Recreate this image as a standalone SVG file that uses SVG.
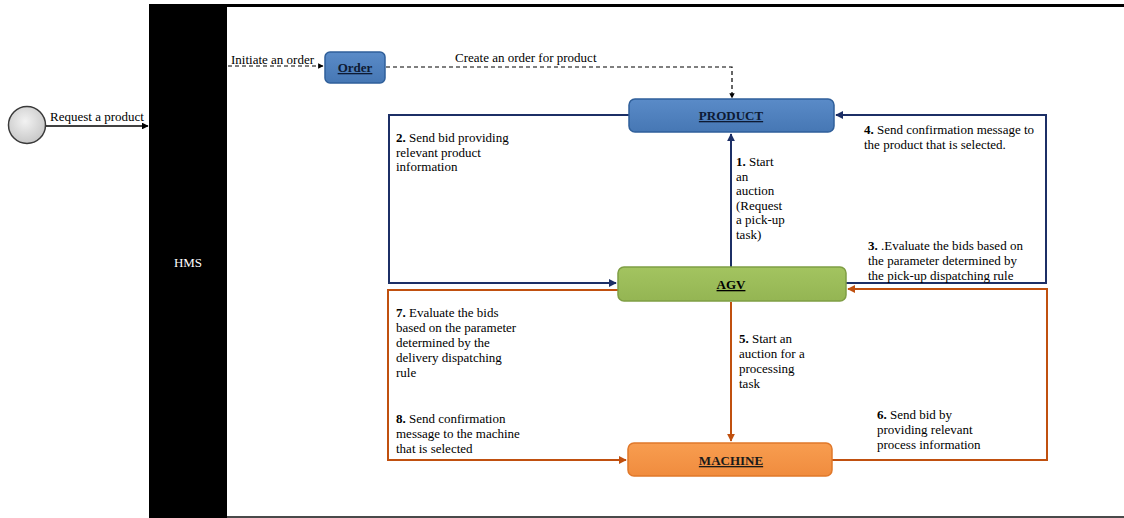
<svg xmlns="http://www.w3.org/2000/svg" width="1124" height="518" viewBox="0 0 1124 518">
<style>
.t{font-family:"Liberation Serif","Times New Roman",serif;font-size:13px;fill:#000}
.b{font-weight:bold}
.w{fill:#fff}
.nt{font-family:"Liberation Serif","Times New Roman",serif;font-size:13px;font-weight:bold;text-decoration:underline;text-anchor:middle}
.navy{fill:none;stroke:#1c2f66;stroke-width:2}
.orng{fill:none;stroke:#c0500f;stroke-width:2}
.dash{fill:none;stroke:#000;stroke-width:1.2;stroke-dasharray:4,3}
.blk{fill:none;stroke:#000;stroke-width:1.5}
</style>
<defs>
<marker id="an" viewBox="0 0 10 10" refX="9" refY="5" markerWidth="4" markerHeight="4" orient="auto"><path d="M0,0 L10,5 L0,10 z" fill="#1c2f66"/></marker>
<marker id="ao" viewBox="0 0 10 10" refX="9" refY="5" markerWidth="4" markerHeight="4" orient="auto"><path d="M0,0 L10,5 L0,10 z" fill="#c0500f"/></marker>
<marker id="ak" viewBox="0 0 10 10" refX="9" refY="5" markerWidth="4.5" markerHeight="4.5" orient="auto"><path d="M0,0 L10,5 L0,10 z" fill="#000"/></marker>
<radialGradient id="gc" cx="0.45" cy="0.4" r="0.6"><stop offset="0" stop-color="#f2f2f2"/><stop offset="1" stop-color="#c8c8c8"/></radialGradient>
<linearGradient id="gb" x1="0" y1="0" x2="0" y2="1"><stop offset="0" stop-color="#5a8bc8"/><stop offset="1" stop-color="#4677b4"/></linearGradient>
<linearGradient id="gg" x1="0" y1="0" x2="0" y2="1"><stop offset="0" stop-color="#a3c460"/><stop offset="1" stop-color="#94b553"/></linearGradient>
<linearGradient id="go" x1="0" y1="0" x2="0" y2="1"><stop offset="0" stop-color="#f89d50"/><stop offset="1" stop-color="#f08c3e"/></linearGradient>
</defs>

<g id="frame">
<rect x="149" y="5" width="78" height="513" fill="#000"/>
<rect x="149" y="4" width="975" height="3" fill="#000"/>
<rect x="227" y="516" width="897" height="2" fill="#4a4a4a"/>
<text class="t w" x="188" y="267" text-anchor="middle">HMS</text>
</g>

<g id="start">
<circle cx="27" cy="125" r="18.5" fill="url(#gc)" stroke="#3a3a3a" stroke-width="1.5"/>
</g>

<g id="connectors">
<path class="blk" d="M46,126 H148" marker-end="url(#ak)"/>
<path class="dash" d="M228,66 H323" marker-end="url(#ak)"/>
<path class="dash" d="M386,67 H732 V98" marker-end="url(#ak)"/>
<path class="navy" d="M629,115 H389 V283 H616" marker-end="url(#an)"/>
<path class="navy" d="M731,267 V134" marker-end="url(#an)"/>
<path class="navy" d="M846,283 H1046 V115 H836" marker-end="url(#an)"/>
<path class="orng" d="M618,290 H388 V460 H626" marker-end="url(#ao)"/>
<path class="orng" d="M731,302 V441" marker-end="url(#ao)"/>
<path class="orng" d="M832,460 H1047 V289 H848" marker-end="url(#ao)"/>
</g>

<g id="labels">
<text class="t" x="50" y="121">Request a product</text>
<text class="t" x="231" y="64">Initiate an order</text>
<text class="t" x="455" y="62">Create an order for product</text>
<text class="t" x="396" y="142"><tspan class="b">2.</tspan> Send bid providing<tspan x="396" dy="14.5">relevant product</tspan><tspan x="396" dy="14.5">information</tspan></text>
<text class="t" x="736" y="166"><tspan class="b">1.</tspan> Start<tspan x="736" dy="14.6">an</tspan><tspan x="736" dy="14.6">auction</tspan><tspan x="736" dy="14.6">(Request</tspan><tspan x="736" dy="14.6">a pick-up</tspan><tspan x="736" dy="14.6">task)</tspan></text>
<text class="t" x="864" y="134"><tspan class="b">4.</tspan> Send confirmation message to<tspan x="864" dy="14.5">the product that is selected.</tspan></text>
<text class="t" x="868" y="250"><tspan class="b">3.</tspan> .Evaluate the bids based on<tspan x="868" dy="15">the parameter determined by</tspan><tspan x="868" dy="15">the pick-up dispatching rule</tspan></text>
<text class="t" x="396" y="317"><tspan class="b">7.</tspan> Evaluate the bids<tspan x="396" dy="15">based on the parameter</tspan><tspan x="396" dy="15">determined by the</tspan><tspan x="396" dy="15">delivery dispatching</tspan><tspan x="396" dy="15">rule</tspan></text>
<text class="t" x="396" y="423"><tspan class="b">8.</tspan> Send confirmation<tspan x="396" dy="15">message to the machine</tspan><tspan x="396" dy="15">that is selected</tspan></text>
<text class="t" x="739" y="343"><tspan class="b">5.</tspan> Start an<tspan x="739" dy="15">auction for a</tspan><tspan x="739" dy="15">processing</tspan><tspan x="739" dy="15">task</tspan></text>
<text class="t" x="877" y="419"><tspan class="b">6.</tspan> Send bid by<tspan x="877" dy="15">providing relevant</tspan><tspan x="877" dy="15">process information</tspan></text>
</g>

<g id="order">
<rect x="325" y="52" width="60" height="31" rx="5" fill="url(#gb)" stroke="#2f5f9a" stroke-width="1.5"/>
<text class="nt" x="355" y="72" fill="#0d1a33">Order</text>
</g>
<g id="product">
<rect x="629" y="99" width="205" height="33" rx="6" fill="url(#gb)" stroke="#2f5f9a" stroke-width="1.5"/>
<text class="nt" x="731" y="120" fill="#0d1a33">PRODUCT</text>
</g>
<g id="agv">
<rect x="618" y="267" width="228" height="34" rx="6" fill="url(#gg)" stroke="#7f9e44" stroke-width="1.5"/>
<text class="nt" x="731" y="289" fill="#000">AGV</text>
</g>
<g id="machine">
<rect x="628" y="443" width="204" height="33" rx="6" fill="url(#go)" stroke="#e0782a" stroke-width="1.5"/>
<text class="nt" x="731" y="465" fill="#1a1a1a">MACHINE</text>
</g>
</svg>
